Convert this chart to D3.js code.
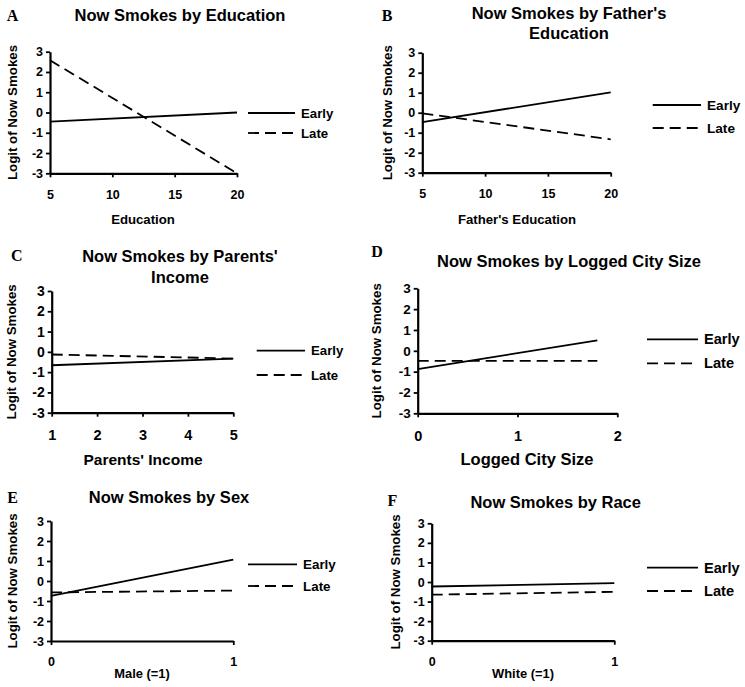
<!DOCTYPE html>
<html>
<head>
<meta charset="utf-8">
<script src="https://cdn.jsdelivr.net/npm/d3@7"></script>
<style>
  html, body { margin: 0; padding: 0; background: #fff; }
  svg text { font-family: "Liberation Sans", Arial, sans-serif; font-weight: bold; fill: #000; }
</style>
</head>
<body>
<svg id="chart" width="745" height="687"></svg>
<script>
// ---------- DATA ----------
const panelLetters = ["A", "B", "C", "D", "E", "F"];
const panelTitles = [
  ["Now Smokes by Education"],
  ["Now Smokes by Father's", "Education"],
  ["Now Smokes by Parents'", "Income"],
  ["Now Smokes by Logged City Size"],
  ["Now Smokes by Sex"],
  ["Now Smokes by Race"]
];
const xTitles = ["Education", "Father's Education", "Parents' Income", "Logged City Size", "Male (=1)", "White (=1)"];
const yTitle = "Logit of Now Smokes";
const xDomains = [[5, 20], [5, 20], [1, 5], [0, 2], [0, 1], [0, 1]];
const xTickValues = [[5, 10, 15, 20], [5, 10, 15, 20], [1, 2, 3, 4, 5], [0, 1, 2], [0, 1], [0, 1]];
const yTickValues = [-3, -2, -1, 0, 1, 2, 3];
const seriesNames = ["Early", "Late"];
// each line: [[x0, y0], [x1, y1]]
const earlyLines = [
  [[5, -0.45], [20, 0.0]],
  [[5, -0.47], [20, 1.02]],
  [[1, -0.66], [5, -0.33]],
  [[0, -0.88], [1.8, 0.5]],
  [[0, -0.74], [1, 1.07]],
  [[0, -0.23], [1, -0.06]]
];
const lateLines = [
  [[5, 2.58], [20, -3.0]],
  [[5, -0.03], [20, -1.33]],
  [[1, -0.13], [5, -0.33]],
  [[0, -0.48], [1.8, -0.48]],
  [[0, -0.57], [1, -0.48]],
  [[0, -0.65], [1, -0.5]]
];

// ---------- LAYOUT ----------
const layout = [
  { x0: 50,    x1: 237,   yT: 51.7,  yB: 173.3, lx: 12.5, ly: 15,    tx: 180, ty: [15],         xlY: 195,   xtY: 219.3, xtX: 143, ytX: 12,  lg1: 248, lg2: 295, lgY: [113, 133],     xf: 12.5, yf: 12.5, tf: 13.2, lf: 13.2 },
  { x0: 422.3, x1: 610.7, yT: 52.7,  yB: 172.7, lx: 387,  ly: 15,    tx: 569, ty: [13.3, 33],   xlY: 194,   xtY: 219,   xtX: 517, ytX: 387, lg1: 652.7, lg2: 701, lgY: [105, 128],   xf: 12.5, yf: 12.5, tf: 13.2, lf: 13.6 },
  { x0: 51.7,  x1: 233.3, yT: 291,   yB: 412.7, lx: 16.7, ly: 255.7, tx: 180, ty: [256, 276.7], xlY: 435,   xtY: 459.3, xtX: 143, ytX: 11.7, lg1: 256.7, lg2: 305, lgY: [350.7, 375], xf: 14.5, yf: 14, tf: 15.5, lf: 13.2 },
  { x0: 417.7, x1: 617.3, yT: 288.3, yB: 413.3, lx: 377,  ly: 251.7, tx: 569, ty: [260.7],      xlY: 436,   xtY: 459.3, xtX: 527, ytX: 376.7, lg1: 647, lg2: 698, lgY: [339.3, 363.3], xf: 14.5, yf: 13.5, tf: 16.5, lf: 14.6 },
  { x0: 51,    x1: 233.3, yT: 521,   yB: 641,   lx: 12.5, ly: 497.7, tx: 169, ty: [496.7],      xlY: 661.7, xtY: 673.3, xtX: 142, ytX: 12.3, lg1: 248, lg2: 297, lgY: [564.3, 586],   xf: 12.5, yf: 12.5, tf: 12.9, lf: 13.4 },
  { x0: 431.7, x1: 614.3, yT: 523.3, yB: 640.7, lx: 392.5, ly: 500,  tx: 555.7, ty: [501.7],    xlY: 661.7, xtY: 673.3, xtX: 523, ytX: 395, lg1: 647, lg2: 698, lgY: [567.7, 591],   xf: 12.5, yf: 12.5, tf: 12.9, lf: 14.6 }
];

const DASH = "11,6";
const fmt = d => String(d);   // plain hyphen-minus like the reference
const svg = d3.select("#chart");

panelLetters.forEach((letter, i) => {
  const L = layout[i];
  const g = svg.append("g");

  const x = d3.scaleLinear().domain(xDomains[i]).range([L.x0, L.x1]);
  const y = d3.scaleLinear().domain([-3, 3]).range([L.yB, L.yT]);

  // panel letter
  g.append("text")
    .attr("x", L.lx).attr("y", L.ly)
    .attr("text-anchor", "middle").attr("dominant-baseline", "central")
    .style("font-family", "'Liberation Serif', 'Times New Roman', serif")
    .style("font-size", "16px")
    .text(letter);

  // title
  panelTitles[i].forEach((t, k) => {
    g.append("text")
      .attr("x", L.tx).attr("y", L.ty[k])
      .attr("text-anchor", "middle").attr("dominant-baseline", "central")
      .style("font-size", "16.5px")
      .text(t);
  });

  // y axis
  const yAxis = d3.axisLeft(y).tickValues(yTickValues).tickSize(4).tickPadding(3).tickSizeOuter(0)
    .tickFormat(fmt);
  const ya = g.append("g").attr("transform", `translate(${L.x0},0)`).call(yAxis);
  ya.select(".domain").attr("stroke", "#000").attr("stroke-width", 2.2);
  ya.selectAll(".tick line").attr("stroke", "#000").attr("stroke-width", 1.8);
  ya.selectAll(".tick text").style("font-size", L.yf + "px").style("font-family", "'Liberation Sans', Arial, sans-serif").style("font-weight", "bold").attr("fill", "#000");

  // x axis
  const xAxis = d3.axisBottom(x).tickValues(xTickValues[i]).tickSize(4).tickSizeOuter(0)
    .tickFormat(fmt);
  const xa = g.append("g").attr("transform", `translate(0,${L.yB})`).call(xAxis);
  xa.select(".domain").attr("stroke", "#000").attr("stroke-width", 2.2);
  xa.selectAll(".tick line").attr("stroke", "#000").attr("stroke-width", 1.8);
  xa.selectAll(".tick text")
    .attr("y", L.xlY - L.yB).attr("dy", "0.35em")
    .style("font-size", L.xf + "px").style("font-family", "'Liberation Sans', Arial, sans-serif").style("font-weight", "bold").attr("fill", "#000");

  // axis titles
  g.append("text")
    .attr("x", L.xtX).attr("y", L.xtY)
    .attr("text-anchor", "middle").attr("dominant-baseline", "central")
    .style("font-size", L.tf + "px")
    .text(xTitles[i]);
  g.append("text")
    .attr("transform", `translate(${L.ytX},${(L.yT + L.yB) / 2}) rotate(-90)`)
    .attr("text-anchor", "middle").attr("dominant-baseline", "central")
    .style("font-size", "13.3px")
    .text(yTitle);

  // lines
  const line = d3.line().x(d => x(d[0])).y(d => y(d[1]));
  g.append("path").datum(earlyLines[i]).attr("d", line)
    .attr("fill", "none").attr("stroke", "#000").attr("stroke-width", 1.8);
  g.append("path").datum(lateLines[i]).attr("d", line)
    .attr("fill", "none").attr("stroke", "#000").attr("stroke-width", 1.8)
    .attr("stroke-dasharray", DASH);

  // legend
  seriesNames.forEach((name, k) => {
    g.append("line")
      .attr("x1", L.lg1).attr("x2", L.lg2).attr("y1", L.lgY[k]).attr("y2", L.lgY[k])
      .attr("stroke", "#000").attr("stroke-width", 1.8)
      .attr("stroke-dasharray", k === 1 ? DASH : null);
    g.append("text")
      .attr("x", L.lg2 + 6).attr("y", L.lgY[k])
      .attr("dominant-baseline", "central")
      .style("font-size", L.lf + "px")
      .text(name);
  });
});
</script>
</body>
</html>
